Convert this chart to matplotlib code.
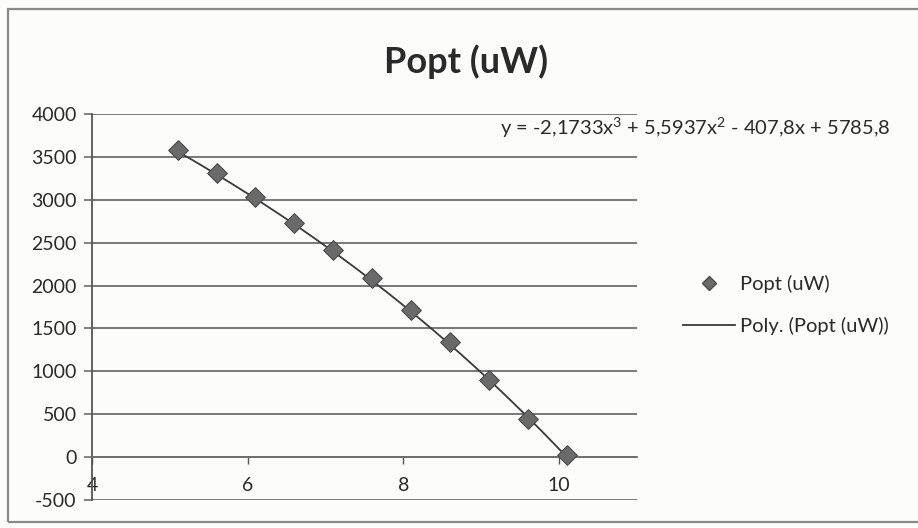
import numpy as np
import matplotlib
matplotlib.use("Agg")
import matplotlib.pyplot as plt
import matplotlib.patches as mpatches
from matplotlib.lines import Line2D

# values
x_vals = [5.1, 5.6, 6.1, 6.6, 7.1, 7.6, 8.1, 8.6, 9.1, 9.6, 10.1]
popt = [3580, 3310, 3030, 2730, 2420, 2090, 1720, 1340, 900, 440, 20]
poly_coef = [-2.1733, 5.5937, -407.8, 5785.8]   # as shown in the trendline label
x_ticks = [4, 6, 8, 10]
y_ticks = [-500, 0, 500, 1000, 1500, 2000, 2500, 3000, 3500, 4000]

TITLE = "Popt (uW)"
EQ_TEXT = "y = -2,1733x$^3$ + 5,5937x$^2$ - 407,8x + 5785,8"

plt.rcParams["font.family"] = ["Lato", "DejaVu Sans"]
plt.rcParams["mathtext.fontset"] = "custom"
plt.rcParams["mathtext.rm"] = "Lato"
plt.rcParams["axes.unicode_minus"] = False

W, H = 918, 528
fig = plt.figure(figsize=(W / 100, H / 100), dpi=100)
fig.patch.set_facecolor("#fcfcfb")

# outer chart border
fig.patches.append(mpatches.Rectangle((8 / W, 1 - 522 / H), 1.0, (522 - 9) / H,
                                      transform=fig.transFigure, fill=False,
                                      edgecolor="#8a8a8a", lw=1.6))

ax = fig.add_axes([92 / W, 1 - 500 / H, (637 - 92) / W, (500 - 114) / H])
ax.set_facecolor("none")

# trendline
xs = np.linspace(x_vals[0], x_vals[-1], 200)
ax.plot(xs, np.polyval(poly_coef, xs), color="#3a3a3a", lw=1.3, zorder=3)
ax.scatter(x_vals, popt, marker="D", s=100, color="#6a6a6a",
           edgecolors="#4a4a4a", linewidths=0.8, zorder=4)

ax.set_xlim(4, 11)
ax.set_ylim(-500, 4000)
ax.set_yticks(y_ticks)
ax.set_xticks(x_ticks)
ax.yaxis.grid(True, color="#6e6e6e", lw=1.3)
ax.set_axisbelow(True)

for s in ["top", "right"]:
    ax.spines[s].set_visible(False)
ax.spines["left"].set_color("#555555")
ax.spines["left"].set_linewidth(1.3)
ax.spines["bottom"].set_position(("data", 0))
ax.spines["bottom"].set_color("#6e6e6e")
ax.spines["bottom"].set_linewidth(1.3)

ax.tick_params(axis="y", direction="out", length=6, width=1.2, color="#6e6e6e",
               labelsize=14, labelcolor="#2a2a2a", pad=5)
ax.tick_params(axis="x", direction="out", length=5, width=1.0, color="#555555",
               labelsize=14, labelcolor="#2a2a2a", pad=9)

fig.text(466 / W, 1 - 62 / H, TITLE, ha="center", va="center",
         fontsize=26, fontweight="bold", color="#2a2a2a")
fig.text(500 / W, 1 - 128 / H, EQ_TEXT, ha="left", va="center",
         fontsize=14.5, color="#2a2a2a")

handles = [Line2D([], [], marker="D", ls="none", color="#6a6a6a",
                  markeredgecolor="#4a4a4a", markersize=7, label="Popt (uW)"),
           Line2D([], [], color="#3a3a3a", lw=1.3, label="Poly. (Popt (uW))")]
fig.legend(handles=handles, loc="center left", bbox_to_anchor=(665 / W, 1 - 305 / H),
           frameon=False, fontsize=14.5, handlelength=2.6, handletextpad=0.2,
           labelspacing=1.15, labelcolor="#2a2a2a")

fig.savefig("out.png", dpi=100, facecolor=fig.get_facecolor())
